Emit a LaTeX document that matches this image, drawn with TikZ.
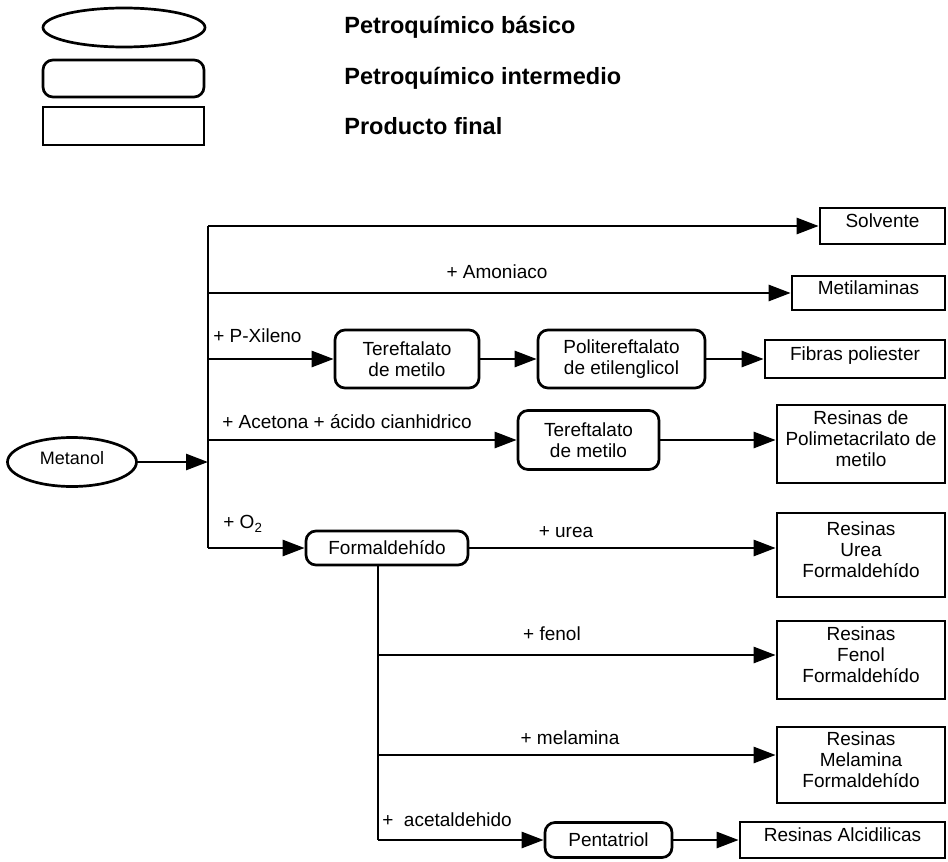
\documentclass[tikz,border=0pt]{standalone}
\usepackage{fontspec}
\setmainfont{Liberation Sans}
\usetikzlibrary{arrows.meta,shapes.geometric}
\begin{document}
\begin{tikzpicture}[x=1pt,y=-1pt,
  line width=2.7pt,
  conn/.style={line width=2.7pt},
  arr/.style={conn,-{Triangle[length=22pt,width=16pt]}},
  basico/.style={draw,ellipse,inner sep=0pt,font=\fontsize{18}{21}\selectfont},
  interm/.style={draw,rounded corners=10pt,inner sep=0pt,align=center,font=\fontsize{19}{21}\selectfont},
  prodbox/.style={draw,rectangle,inner sep=0pt,align=center,font=\fontsize{19}{21}\selectfont},
  hightext/.style={text depth=11pt},
  legtext/.style={anchor=west,inner sep=0pt,font=\fontsize{23.5}{26}\selectfont\bfseries},
  lbl/.style={inner sep=0pt,font=\fontsize{19}{21}\selectfont},
  lblw/.style={lbl,anchor=west}]
\useasboundingbox (0,0) rectangle (948,862);

% legend
\node[basico,minimum width=162pt,minimum height=39pt] (legA) at (124,27.5) {};
\node[interm,minimum width=161pt,minimum height=37pt] (legB) at (123.5,78.5) {};
\node[prodbox,minimum width=161pt,minimum height=38pt] (legC) at (123.5,126) {};
\node[legtext] (legAt) at (343,27) {Petroquímico básico};
\node[legtext] (legBt) at (343,78) {Petroquímico intermedio};
\node[legtext] (legCt) at (343,126) {Producto final};

% start node
\node[basico,minimum width=129pt,minimum height=49pt,text depth=9pt] (met) at (72,462) {Metanol};

% trunk junctions
\coordinate (t1) at (208,226);
\coordinate (t2) at (208,293);
\coordinate (t3) at (208,359);
\coordinate (t4) at (208,440);
\coordinate (tm) at (208,462);
\coordinate (t5) at (208,548);

% products and intermediates
\node[prodbox,hightext,minimum width=125pt,minimum height=36pt] (solv) at (882.5,226) {Solvente};
\node[prodbox,hightext,minimum width=153pt,minimum height=34pt] (mtl) at (868.5,293) {Metilaminas};
\node[interm,minimum width=144pt,minimum height=58pt] (ter1) at (407,359) {Tereftalato\\de metilo};
\node[interm,minimum width=167pt,minimum height=58pt] (pet) at (621.5,359) {Politereftalato\\de etilenglicol};
\node[prodbox,hightext,minimum width=180pt,minimum height=38pt] (fib) at (855,359) {Fibras poliester};
\node[interm,minimum width=141pt,minimum height=59pt] (ter2) at (588.5,440) {Tereftalato\\de metilo};
\node[prodbox,hightext,minimum width=168pt,minimum height=78pt] (pmm) at (861,444) {Resinas de\\Polimetacrilato de\\metilo};
\node[interm,minimum width=162pt,minimum height=34pt] (form) at (387,548) {Formaldehído};
\node[prodbox,hightext,minimum width=168pt,minimum height=84pt] (rurea) at (861,555) {Resinas\\Urea\\Formaldehído};
\node[prodbox,hightext,minimum width=168pt,minimum height=78pt] (rfen) at (861,660) {Resinas\\Fenol\\Formaldehído};
\node[prodbox,hightext,minimum width=168pt,minimum height=76pt] (rmel) at (861,765) {Resinas\\Melamina\\Formaldehído};
\node[interm,minimum width=127pt,minimum height=35pt] (pent) at (608.5,840) {Pentatriol};
\node[prodbox,hightext,minimum width=205pt,minimum height=36pt] (ralc) at (842.5,840) {Resinas Alcidilicas};

% formaldehyde branch junctions
\coordinate (f1) at (378,655);
\coordinate (f2) at (378,755);
\coordinate (f3) at (378,840);

% connectors
\draw[arr] (met.east) -- (tm);
\draw[conn] (t1) -- (t5);
\draw[arr] (t1) -- (solv.west);
\draw[arr] (t2) -- (mtl.west);
\draw[arr] (t3) -- (ter1.west);
\draw[arr] (ter1.east) -- (pet.west);
\draw[arr] (pet.east) -- (fib.west |- pet.east);
\draw[arr] (t4) -- (ter2.west);
\draw[arr] (ter2.east) -- (pmm.west |- ter2.east);
\draw[arr] (t5) -- (form.west);
\draw[arr] (form.east) -- (rurea.west |- form.east);
\draw[conn] (form.south -| f3) -- (f3);
\draw[arr] (f1) -- (rfen.west |- f1);
\draw[arr] (f2) -- (rmel.west |- f2);
\draw[arr] (f3) -- (pent.west);
\draw[arr] (pent.east) -- (ralc.west);

% reagent labels
\node[lbl] (lamo) at (497,272) {+ Amoniaco};
\node[lblw] (lpx) at (212,336) {+ P-Xileno};
\node[lblw] (lace) at (221,422) {+ Acetona + ácido cianhidrico};
\node[lblw] (lo2) at (222,524) {+ O\textsubscript{2}};
\node[lbl] (lurea) at (566,532) {+ urea};
\node[lbl] (lfen) at (552,634) {+ fenol};
\node[lbl] (lmel) at (570,738) {+ melamina};
\node[lblw] (lacet) at (381,820) {+\ \ acetaldehido};
\end{tikzpicture}
\end{document}
